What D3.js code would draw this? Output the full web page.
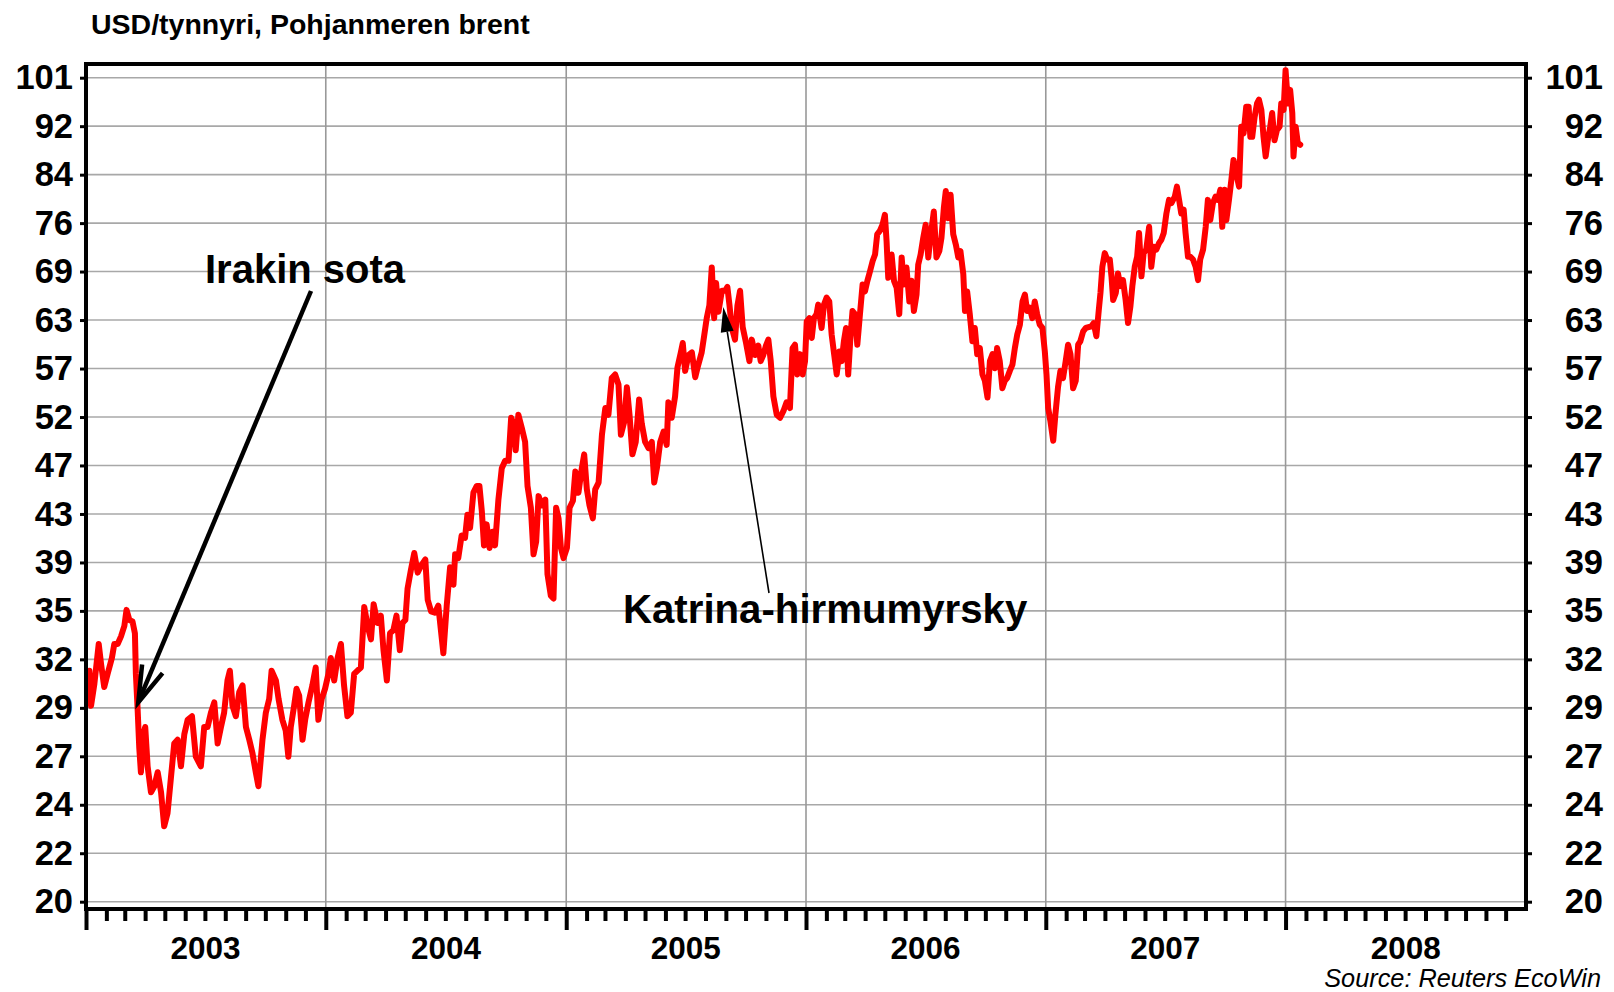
<!DOCTYPE html>
<html><head><meta charset="utf-8">
<script src="https://cdn.jsdelivr.net/npm/d3@7"></script>
<style>
body{margin:0;background:#fff}
svg{display:block}
text{font-family:"Liberation Sans",Arial,Helvetica,sans-serif}
</style>
</head><body>
<svg id="c" width="1614" height="992"></svg>
<script>
// ---------------- data ----------------
const title = "USD/tynnyri, Pohjanmeren brent";
const sourceText = "Source: Reuters EcoWin";
const yearLabels = ["2003","2004","2005","2006","2007","2008"];
const yTickValues = [20,22,24.2,26.62,29.28,32.21,35.43,38.97,42.87,47.16,51.87,57.06,62.77,69.05,75.95,83.54,91.90,101.09];
const yTickLabels = ["20","22","24","27","29","32","35","39","43","47","52","57","63","69","76","84","92","101"];

// time as decimal years
const decYears = [
2003.014,2003.021,2003.035,2003.053,2003.063,2003.076,2003.090,2003.108,2003.118,2003.132,
2003.146,2003.160,2003.169,2003.181,2003.194,2003.204,2003.208,2003.215,2003.222,2003.229,
2003.239,2003.247,2003.257,2003.271,2003.285,2003.299,2003.313,2003.326,2003.340,2003.354,
2003.368,2003.382,2003.396,2003.410,2003.424,2003.442,2003.458,2003.479,2003.493,2003.507,
2003.521,2003.535,2003.549,2003.563,2003.576,2003.590,2003.600,2003.611,2003.625,2003.639,
2003.653,2003.667,2003.681,2003.694,2003.708,2003.719,2003.736,2003.750,2003.764,2003.774,
2003.792,2003.803,2003.819,2003.833,2003.844,2003.854,2003.868,2003.878,2003.889,2003.903,
2003.914,2003.928,2003.944,2003.958,2003.969,2003.983,2003.997,2004.011,2004.021,2004.035,
2004.049,2004.063,2004.076,2004.090,2004.104,2004.118,2004.132,2004.146,2004.160,2004.174,
2004.188,2004.199,2004.215,2004.229,2004.240,2004.254,2004.267,2004.281,2004.294,2004.308,
2004.319,2004.331,2004.340,2004.354,2004.368,2004.382,2004.396,2004.414,2004.424,2004.438,
2004.454,2004.468,2004.489,2004.503,2004.517,2004.531,2004.538,2004.551,2004.565,2004.579,
2004.589,2004.600,2004.614,2004.628,2004.639,2004.649,2004.658,2004.669,2004.681,2004.694,
2004.704,2004.718,2004.732,2004.746,2004.760,2004.771,2004.781,2004.790,2004.801,2004.815,
2004.829,2004.839,2004.853,2004.864,2004.875,2004.885,2004.899,2004.913,2004.922,2004.936,
2004.947,2004.958,2004.968,2004.978,2004.989,2005.003,2005.014,2005.028,2005.038,2005.051,
2005.065,2005.075,2005.086,2005.097,2005.111,2005.121,2005.135,2005.149,2005.163,2005.176,
2005.190,2005.204,2005.218,2005.228,2005.242,2005.253,2005.264,2005.276,2005.290,2005.304,
2005.315,2005.329,2005.343,2005.357,2005.367,2005.378,2005.392,2005.406,2005.419,2005.426,
2005.440,2005.454,2005.464,2005.478,2005.486,2005.496,2005.510,2005.524,2005.538,2005.551,
2005.565,2005.575,2005.586,2005.597,2005.607,2005.617,2005.625,2005.635,2005.649,2005.663,
2005.672,2005.681,2005.690,2005.704,2005.714,2005.725,2005.736,2005.750,2005.764,2005.774,
2005.788,2005.801,2005.811,2005.822,2005.833,2005.843,2005.853,2005.864,2005.878,2005.892,
2005.906,2005.919,
2005.933,2005.944,2005.954,2005.964,2005.975,2005.986,2005.996,2006.003,2006.014,2006.024,
2006.033,2006.044,2006.051,2006.065,2006.075,2006.086,2006.097,2006.107,2006.121,2006.128,
2006.139,2006.149,2006.158,2006.167,2006.176,2006.186,2006.194,2006.204,2006.214,2006.225,
2006.236,2006.246,2006.256,2006.267,2006.278,2006.288,2006.297,2006.308,2006.319,2006.329,
2006.336,2006.343,2006.357,2006.367,2006.378,2006.389,2006.399,2006.408,2006.419,2006.431,
2006.440,2006.450,2006.461,2006.468,2006.478,2006.489,2006.499,2006.510,2006.519,2006.533,
2006.544,2006.556,2006.565,2006.575,2006.583,2006.593,2006.603,2006.614,2006.625,2006.635,
2006.644,2006.656,2006.663,2006.672,2006.683,2006.694,2006.704,2006.714,2006.725,2006.736,
2006.746,2006.757,2006.767,2006.778,2006.788,2006.797,2006.808,2006.819,2006.829,2006.839,
2006.850,2006.861,2006.871,2006.881,2006.892,2006.903,2006.913,2006.922,2006.933,2006.944,
2006.954,2006.964,2006.975,2006.986,2006.996,2007.003,2007.010,2007.019,2007.031,2007.040,
2007.051,2007.061,2007.072,2007.083,2007.093,2007.103,2007.114,2007.125,2007.135,2007.144,
2007.156,2007.167,
2007.190,2007.200,2007.211,2007.221,2007.228,2007.236,2007.246,2007.256,2007.267,2007.274,
2007.281,2007.292,2007.301,2007.311,2007.322,2007.333,2007.343,2007.353,2007.361,2007.371,
2007.381,2007.389,2007.399,2007.408,2007.419,2007.431,2007.440,2007.450,2007.461,2007.472,
2007.482,2007.492,2007.503,2007.514,2007.524,2007.538,2007.547,2007.556,2007.565,2007.575,
2007.583,2007.593,2007.603,2007.614,2007.625,2007.635,2007.644,2007.656,2007.667,2007.676,
2007.686,2007.697,2007.708,2007.718,2007.728,2007.736,2007.746,2007.753,2007.764,2007.774,
2007.783,2007.794,2007.806,2007.815,2007.825,2007.836,2007.846,2007.853,2007.861,2007.871,
2007.881,2007.889,2007.899,2007.908,2007.917,2007.926,2007.936,2007.944,2007.954,2007.964,
2007.975,2007.982,2007.992,2008.000,2008.010,2008.019,2008.028,2008.033,2008.042,2008.051,
2008.061
];

// Brent, USD per barrel
const brent = [
31.5,29.4,30.7,33.2,31.9,30.5,31.3,32.3,33.2,33.2,
33.7,34.4,35.5,34.8,34.7,33.9,31.3,29.3,27.1,25.8,
27.8,28.2,26.1,24.8,25.1,25.8,24.8,23.2,23.8,25.5,
27.3,27.5,26.1,27.8,28.6,28.8,26.6,26.1,28.2,28.2,
29.0,29.6,27.3,28.2,29.0,30.9,31.5,29.4,28.8,30.2,
30.6,28.2,27.5,26.8,25.8,25.1,27.5,29.0,29.8,31.5,
30.9,29.8,28.6,28.0,26.6,28.2,29.4,30.4,30.0,27.5,
28.6,29.6,30.6,31.7,28.6,29.8,30.4,31.3,32.3,30.9,
32.3,33.2,30.6,28.8,29.0,31.3,31.5,31.7,35.7,34.4,
33.5,35.9,34.6,35.1,32.8,30.9,33.9,34.1,35.1,32.8,
34.6,34.8,37.0,38.4,39.7,38.2,38.7,39.2,36.2,35.4,
35.3,35.8,32.6,35.8,38.6,37.3,39.6,39.3,41.1,40.9,
42.8,41.7,44.7,45.3,45.3,43.1,40.3,42.0,40.1,41.4,
40.3,44.1,46.9,47.6,47.6,51.8,51.2,48.6,52.1,50.8,
49.4,45.3,43.4,39.6,40.6,44.4,43.6,44.1,38.1,36.5,
36.3,43.4,42.5,40.1,39.3,40.1,43.4,44.0,46.6,44.7,
46.9,48.2,45.0,43.6,42.5,45.0,45.6,50.1,52.8,52.1,
56.0,56.4,55.3,50.1,51.4,55.0,52.1,48.2,49.4,53.7,
51.2,49.4,48.8,49.4,45.6,46.9,49.4,50.4,49.1,53.4,
51.8,54.0,57.2,58.9,60.0,56.8,58.6,58.9,56.1,57.5,
58.9,60.8,63.0,64.6,69.6,63.0,67.5,63.8,66.5,66.5,
67.0,64.6,61.9,60.4,64.6,66.5,61.9,60.0,57.9,60.4,
58.6,59.7,57.9,58.6,59.7,60.4,57.9,54.0,52.1,51.8,
52.5,53.4,
52.8,59.4,59.8,56.4,58.7,56.4,57.9,62.6,63.0,60.6,
63.0,63.5,64.7,61.8,64.7,65.6,65.1,61.0,57.9,56.4,
59.0,57.9,60.2,61.8,56.4,61.0,63.9,63.5,59.8,63.5,
67.3,66.4,67.8,69.1,70.5,71.4,74.3,74.8,75.7,77.2,
73.3,68.2,71.4,67.8,66.9,63.5,71.0,67.3,69.6,65.1,
67.8,63.9,66.0,70.0,71.4,73.8,75.7,71.0,73.8,77.7,
71.0,71.9,73.8,78.3,80.9,76.7,80.3,74.3,72.8,71.0,
71.9,68.7,63.9,66.4,63.5,60.2,61.8,58.7,59.4,56.4,
55.7,53.9,57.9,58.7,57.1,59.4,57.9,54.9,55.7,56.0,
56.8,57.5,59.4,61.0,62.2,65.1,66.0,63.9,64.3,63.0,
65.1,63.5,62.2,61.8,59.0,56.4,52.8,51.5,49.5,52.1,
55.0,56.8,56.0,57.9,59.8,58.7,54.9,55.7,59.8,60.2,
61.4,61.8,
62.0,62.4,60.8,64.0,66.2,69.7,71.6,70.7,70.7,68.4,
65.3,66.2,68.8,67.1,67.9,65.3,62.4,64.5,67.1,69.7,
71.1,74.5,68.4,71.6,72.1,75.4,69.7,72.5,72.1,73.0,
73.5,74.5,77.4,79.5,79.0,80.0,81.6,79.5,77.4,78.0,
74.5,71.1,71.1,70.7,69.7,67.9,70.7,72.1,75.4,79.5,
76.4,79.0,80.0,79.5,81.1,75.4,81.1,76.4,79.5,82.7,
86.0,83.8,81.6,91.8,90.6,95.5,95.5,90.0,90.0,93.6,
96.1,96.8,94.9,90.0,86.6,89.4,91.8,94.3,89.4,91.2,
91.8,96.1,94.9,102.6,96.1,98.7,94.3,86.6,91.8,88.9,
88.6
];

const annotations = [
  {label:"Irakin sota", at:2003.218, value:29.6},
  {label:"Katrina-hirmumyrsky", at:2005.655, value:64.4}
];

// ---------------- helpers ----------------
function decToDate(t){
  const yr = Math.floor(t);
  const a = new Date(yr,0,1), b = new Date(yr+1,0,1);
  return new Date(+a + (t-yr)*(b-a));
}
const series = decYears.map((t,i)=>({date:decToDate(t), v:brent[i]}));

// ---------------- layout ----------------
const FONT = '"Liberation Sans",Arial,Helvetica,sans-serif';
const L=86, R=1526, T=64, B=909;
const svg = d3.select("#c");

const x = d3.scaleTime().domain([new Date(2003,0,1), new Date(2009,0,1)]).range([L,R]);
const y = d3.scaleLog().domain([yTickValues[0], yTickValues[yTickValues.length-1]]).range([901.7, 77.7]);

// horizontal grid
svg.append("g").selectAll("line").data(yTickValues).join("line")
  .attr("x1",L).attr("x2",R)
  .attr("y1",d=>y(d)).attr("y2",d=>y(d))
  .attr("stroke","#a8a8a8").attr("stroke-width",1.6);

// vertical year grid
const yearStarts = yearLabels.map(s=>new Date(+s,0,1));
svg.append("g").selectAll("line").data(yearStarts.slice(1)).join("line")
  .attr("x1",d=>x(d)).attr("x2",d=>x(d))
  .attr("y1",T).attr("y2",B)
  .attr("stroke","#999").attr("stroke-width",1.6);

// series
const line = d3.line().x(d=>x(d.date)).y(d=>y(d.v)).curve(d3.curveLinear);
svg.append("path").datum(series)
  .attr("d",line).attr("fill","none")
  .attr("stroke","#ff0000").attr("stroke-width",6)
  .attr("stroke-linejoin","round").attr("stroke-linecap","round");

// frame
svg.append("rect").attr("x",L).attr("y",T).attr("width",R-L).attr("height",B-T)
  .attr("fill","none").attr("stroke","#000").attr("stroke-width",4);

// left axis
const gL = svg.append("g").attr("transform",`translate(${L},0)`)
  .call(d3.axisLeft(y).tickValues(yTickValues).tickFormat((d,i)=>yTickLabels[i]).tickSize(6).tickPadding(7));
gL.select(".domain").remove();
gL.selectAll("line").attr("stroke","#000").attr("stroke-width",3);
gL.selectAll("text").attr("font-size",34.5).attr("font-weight","bold").attr("font-family",FONT).attr("fill","#000");

// right axis
const gR = svg.append("g").attr("transform",`translate(${R},0)`)
  .call(d3.axisRight(y).tickValues(yTickValues).tickFormat((d,i)=>yTickLabels[i]).tickSize(6).tickPadding(7));
gR.select(".domain").remove();
gR.selectAll("line").attr("stroke","#000").attr("stroke-width",3);
gR.selectAll("text").attr("font-size",34.5).attr("font-weight","bold").attr("font-family",FONT).attr("fill","#000")
  .attr("text-anchor","end").attr("x",77);

// bottom axis: monthly ticks, longer at year start
const months = d3.timeMonth.range(new Date(2003,0,1), new Date(2009,0,1));
const gB = svg.append("g").attr("transform",`translate(0,${B})`)
  .call(d3.axisBottom(x).tickValues(months).tickSize(12).tickFormat(""));
gB.select(".domain").remove();
gB.selectAll(".tick line").attr("stroke","#000").attr("stroke-width",4)
  .attr("y2",d=>d.getMonth()===0?21:12);

// year labels
svg.append("g").selectAll("text").data(yearLabels).join("text")
  .attr("x",d=>x(new Date(+d,6,2))).attr("y",959)
  .attr("text-anchor","middle").attr("font-size",31.5).attr("font-weight","bold")
  .text(d=>d);

// title
svg.append("text").attr("x",91).attr("y",34).attr("font-size",28.5).attr("font-weight","bold").text(title);

// source
svg.append("text").attr("x",1601).attr("y",987).attr("text-anchor","end")
  .attr("font-size",25.3).attr("font-style","italic").text(sourceText);

// annotations
const ann = svg.append("g");
// Irakin sota: thick arrow with open head
{
  const a = annotations[0];
  const tip = [x(decToDate(a.at)), y(a.value)];
  const tail = [311, 291];
  const dx = tail[0]-tip[0], dy = tail[1]-tip[1], len = Math.hypot(dx,dy);
  const ux = dx/len, uy = dy/len, hl = 38, th = 17*Math.PI/180;
  const w1 = [tip[0]+hl*(ux*Math.cos(th)-uy*Math.sin(th)), tip[1]+hl*(ux*Math.sin(th)+uy*Math.cos(th))];
  const w2 = [tip[0]+hl*(ux*Math.cos(-th)-uy*Math.sin(-th)), tip[1]+hl*(ux*Math.sin(-th)+uy*Math.cos(-th))];
  ann.append("line").attr("x1",tail[0]).attr("y1",tail[1]).attr("x2",tip[0]+ux*2).attr("y2",tip[1]+uy*2)
    .attr("stroke","#000").attr("stroke-width",4.5);
  ann.append("path").attr("d",`M${w1}L${tip}L${w2}`).attr("fill","none")
    .attr("stroke","#000").attr("stroke-width",4.5).attr("stroke-linejoin","miter");
  ann.append("text").attr("x",205).attr("y",283).attr("font-size",40).attr("font-weight","bold").text(a.label);
}
// Katrina: thin arrow with filled head
{
  const a = annotations[1];
  const tip = [x(decToDate(a.at)), y(a.value)];
  const tail = [769, 593];
  const dx = tail[0]-tip[0], dy = tail[1]-tip[1], len = Math.hypot(dx,dy);
  const ux = dx/len, uy = dy/len, hl = 25, hw = 6.5;
  const base = [tip[0]+ux*hl, tip[1]+uy*hl];
  const p1 = [base[0]-uy*hw, base[1]+ux*hw], p2 = [base[0]+uy*hw, base[1]-ux*hw];
  ann.append("line").attr("x1",tail[0]).attr("y1",tail[1]).attr("x2",base[0]).attr("y2",base[1])
    .attr("stroke","#000").attr("stroke-width",1.6);
  ann.append("path").attr("d",`M${tip}L${p1}L${p2}Z`).attr("fill","#000");
  ann.append("text").attr("x",623).attr("y",623).attr("font-size",40.2).attr("font-weight","bold").text(a.label);
}
</script>
</body></html>
